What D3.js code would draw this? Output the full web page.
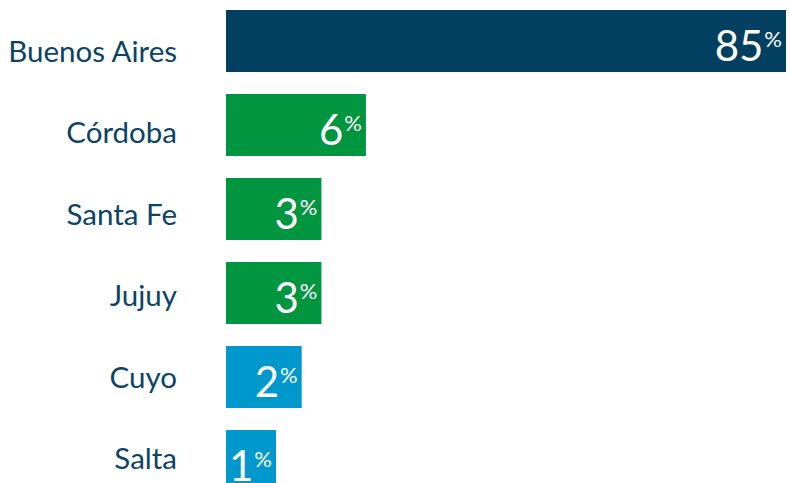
<!DOCTYPE html>
<html>
<head>
<meta charset="utf-8">
<script src="https://cdn.jsdelivr.net/npm/d3@7"></script>
<style>
    html, body { margin: 0; padding: 0; background: #fff; }
    svg { display: block; }
</style>
</head>
<body>
<div id="chart"></div>
<script>
const width = 790;
const height = 483;

const regions = ["Buenos Aires", "Córdoba", "Santa Fe", "Jujuy", "Cuyo", "Salta"];
const shares = [85, 6, 3, 3, 2, 1];
const groups = ["a", "b", "b", "b", "c", "c"];

const color = d3.scaleOrdinal()
    .domain(["a", "b", "c"])
    .range(["#023f60", "#00953f", "#0098cd"]);

const data = regions.map((r, i) => ({ region: r, value: shares[i], group: groups[i] }));

const svg = d3.select("#chart")
    .append("svg")
    .attr("viewBox", [0, 0, width, height])
    .attr("width", width)
    .attr("height", height);

const x0 = 226;
// bar lengths grow roughly with the square root of the share
const x = d3.scaleSqrt()
    .domain([1, 85])
    .range([50, 560]);

const y = d3.scaleBand()
    .domain(regions)
    .range([10, 492])
    .paddingInner(0.262)
    .paddingOuter(0);

// the labels sit on their own, slightly tighter, grid
const yLabel = d3.scalePoint()
    .domain(regions)
    .range([62, 469]);

svg.append("g")
    .selectAll("rect")
    .data(data)
    .join("rect")
    .attr("x", x0)
    .attr("y", d => y(d.region))
    .attr("width", d => x(d.value))
    .attr("height", y.bandwidth())
    .attr("fill", d => color(d.group));

svg.append("g")
    .selectAll("text")
    .data(data)
    .join("text")
    .attr("x", 177)
    .attr("y", d => yLabel(d.region))
    .attr("text-anchor", "end")
    .attr("font-family", "Lato, 'Open Sans', sans-serif")
    .attr("font-size", 29.5)
    .attr("fill", "#0b4466")
    .text(d => d.region);

const vals = svg.append("g")
    .selectAll("text")
    .data(data)
    .join("text")
    .attr("x", d => x0 + x(d.value) - 4)
    .attr("y", d => y(d.region) + 51)
    .attr("text-anchor", "end")
    .attr("font-family", "Lato, 'Open Sans', sans-serif")
    .attr("fill", "#fff");

vals.append("tspan")
    .attr("font-size", 42)
    .text(d => d.value);

vals.append("tspan")
    .attr("font-size", 22)
    .attr("dx", 1)
    .attr("dy", -14)
    .text("%");
</script>
</body>
</html>
